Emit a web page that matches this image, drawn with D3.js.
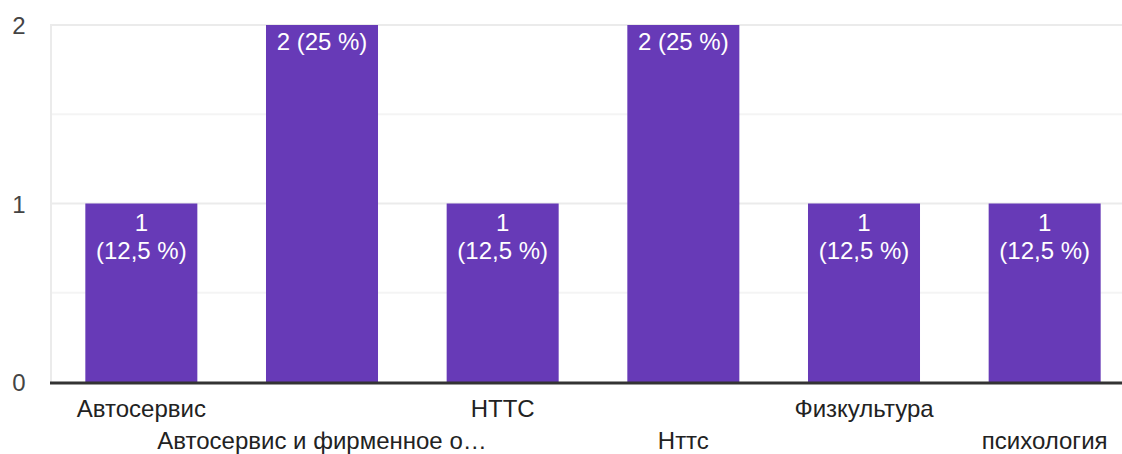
<!DOCTYPE html>
<html>
<head>
<meta charset="utf-8">
<script src="https://cdn.jsdelivr.net/npm/d3@7"></script>
<style>
  body { margin: 0; background: #fff; }
  svg { display: block; font-family: Arial, "Liberation Sans", sans-serif; }
</style>
</head>
<body>
<div id="chart"></div>
<script>
// данные
const categories = ["Автосервис", "Автосервис и фирменное о…", "НТТС", "Нттс", "Физкультура", "психология"];
const counts = [1, 2, 1, 2, 1, 1];
const percents = ["12,5 %", "25 %", "12,5 %", "25 %", "12,5 %", "12,5 %"];
const yTicks = [0, 1, 2];
const yGrid = [0.5, 1, 1.5, 2];

const width = 1122, height = 454;
const fontSize = 24;

const svg = d3.select("#chart").append("svg")
    .attr("width", width)
    .attr("height", height);

const x = d3.scaleBand()
    .domain(categories)
    .range([51, 1135])
    .paddingInner(0.38)
    .paddingOuter(0.19);

const y = d3.scaleLinear()
    .domain([0, 2])
    .range([382, 25]);

// сетка
svg.append("g")
    .selectAll("line")
    .data(yGrid)
    .join("line")
    .attr("x1", 50)
    .attr("x2", width)
    .attr("y1", d => y(d))
    .attr("y2", d => y(d))
    .attr("stroke", d => Number.isInteger(d) ? "#ebebeb" : "#f4f4f4")
    .attr("stroke-width", 2);

svg.append("line")
    .attr("x1", 51).attr("x2", 51)
    .attr("y1", y(2) - 1).attr("y2", y(0))
    .attr("stroke", "#ebebeb")
    .attr("stroke-width", 2);

// подписи оси Y
svg.append("g")
    .selectAll("text")
    .data(yTicks)
    .join("text")
    .attr("x", 19)
    .attr("y", d => y(d) + 9)
    .attr("text-anchor", "middle")
    .attr("font-size", fontSize)
    .attr("fill", "#444")
    .text(d => d);

// столбцы
const data = categories.map((c, i) => ({ cat: c, value: counts[i], pct: percents[i] }));

svg.append("g")
    .selectAll("rect")
    .data(data)
    .join("rect")
    .attr("x", d => x(d.cat))
    .attr("y", d => y(d.value))
    .attr("width", x.bandwidth())
    .attr("height", d => y(0) - y(d.value))
    .attr("fill", "#673ab7");

// подписи значений
const labels = svg.append("g")
    .selectAll("text")
    .data(data)
    .join("text")
    .attr("text-anchor", "middle")
    .attr("font-size", fontSize)
    .attr("fill", "#fff");

labels.each(function (d) {
    const t = d3.select(this);
    const cx = x(d.cat) + x.bandwidth() / 2;
    if (d.value >= 2) {
        t.append("tspan").attr("x", cx).attr("y", y(d.value) + 25)
            .text(`${d.value} (${d.pct})`);
    } else {
        t.append("tspan").attr("x", cx).attr("y", y(d.value) + 27).text(d.value);
        t.append("tspan").attr("x", cx).attr("y", y(d.value) + 55).text(`(${d.pct})`);
    }
});

// ось X
svg.append("line")
    .attr("x1", 50).attr("x2", width)
    .attr("y1", y(0) + 1).attr("y2", y(0) + 1)
    .attr("stroke", "#333")
    .attr("stroke-width", 3);

svg.append("g")
    .selectAll("text")
    .data(categories)
    .join("text")
    .attr("x", d => x(d) + x.bandwidth() / 2)
    .attr("y", (d, i) => i % 2 === 0 ? 417 : 449)
    .attr("text-anchor", "middle")
    .attr("font-size", fontSize)
    .attr("fill", "#222")
    .text(d => d);
</script>
</body>
</html>
